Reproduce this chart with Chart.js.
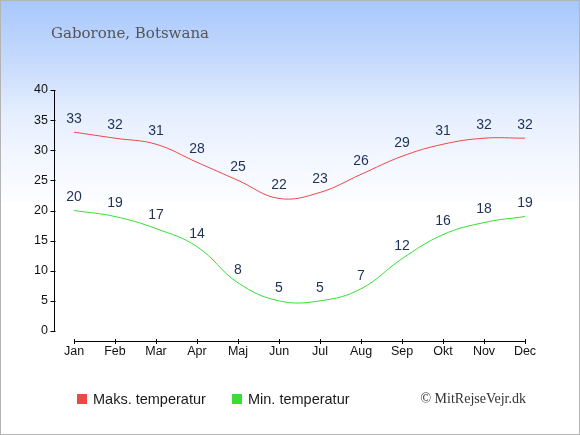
<!DOCTYPE html>
<html lang="da">
<head>
    <meta charset="UTF-8">
    <title>Gaborone, Botswana - temperatur</title>
    <script src="https://cdn.jsdelivr.net/npm/chart.js"></script>
    <style>
        html, body { margin: 0; padding: 0; }
        .frame {
            position: relative;
            width: 580px; height: 435px;
            box-sizing: border-box;
            border: 1px solid #b4b4b4;
            background: linear-gradient(to bottom, #a8c8fc 0px, #c6dafd 60px, #e6effe 115px, #f3f7ff 160px, #fcfdff 200px, #ffffff 202px, #ffffff 100%);
        }
        #tempChart { display: block; }
    </style>
</head>
<body>
    <div class="frame">
        <canvas id="tempChart" width="578" height="433"></canvas>
    </div>

    <script>
        const months = ['Jan', 'Feb', 'Mar', 'Apr', 'Maj', 'Jun', 'Jul', 'Aug', 'Sep', 'Okt', 'Nov', 'Dec'];
        const maxTemp = [33, 32, 31, 28, 25, 22, 23, 26, 29, 31, 32, 32];
        const minTemp = [20, 19, 17, 14, 8, 5, 5, 7, 12, 16, 18, 19];
        const yTicks = [0, 5, 10, 15, 20, 25, 30, 35, 40];

        const titleText = 'Gaborone, Botswana';
        const creditText = '\u00A9 MitRejseVejr.dk';

        const sansFont = '"Liberation Sans", Arial, sans-serif';
        const serifFont = '"DejaVu Serif", serif';

        // axis lines, point labels, legend and the texts around the plot
        const decorations = {
            id: 'decorations',
            afterDraw(chart) {
                const ctx = chart.ctx;
                const x = chart.scales.x;
                const y = chart.scales.y;
                ctx.save();

                // y axis
                const ax = x.getPixelForValue(0) - 19.5;
                ctx.strokeStyle = '#000';
                ctx.lineWidth = 1;
                ctx.beginPath();
                ctx.moveTo(ax, y.getPixelForValue(40));
                ctx.lineTo(ax, y.getPixelForValue(0));
                yTicks.forEach(v => {
                    const py = Math.round(y.getPixelForValue(v)) + 0.5;
                    ctx.moveTo(ax - 4, py);
                    ctx.lineTo(ax + 1, py);
                });
                ctx.stroke();

                // x axis, a little below zero
                const ay = Math.round(y.getPixelForValue(0)) + 10.5;
                ctx.beginPath();
                ctx.moveTo(x.getPixelForValue(0), ay);
                ctx.lineTo(x.getPixelForValue(months.length - 1), ay);
                months.forEach((m, i) => {
                    const px = Math.round(x.getPixelForValue(i)) + 0.5;
                    ctx.moveTo(px, ay - 2.5);
                    ctx.lineTo(px, ay + 2.5);
                });
                ctx.stroke();

                // values over the points
                ctx.font = '14px ' + sansFont;
                ctx.fillStyle = '#1f3155';
                ctx.textAlign = 'center';
                ctx.textBaseline = 'middle';
                chart.data.datasets.forEach((ds, di) => {
                    chart.getDatasetMeta(di).data.forEach((pt, i) => {
                        ctx.fillText(String(ds.data[i]), pt.x, pt.y - 13);
                    });
                });

                // legend
                const legendX = [76, 231];
                ctx.font = '14.5px ' + sansFont;
                ctx.textAlign = 'left';
                chart.data.datasets.forEach((ds, di) => {
                    ctx.fillStyle = ds.borderColor;
                    ctx.fillRect(legendX[di], 393, 10, 10);
                    ctx.fillStyle = '#1a1a1a';
                    ctx.fillText(ds.label, legendX[di] + 16, 398.5);
                });

                // credit
                ctx.font = '14px "Liberation Serif", serif';
                ctx.fillStyle = '#333';
                ctx.textAlign = 'right';
                ctx.fillText(creditText, 525, 398.5);

                // title
                ctx.font = '15px ' + serifFont;
                ctx.fillStyle = '#555';
                ctx.textAlign = 'left';
                ctx.textBaseline = 'alphabetic';
                ctx.fillText(titleText, 50, 37);

                ctx.restore();
            }
        };

        new Chart(document.getElementById('tempChart'), {
            type: 'line',
            data: {
                labels: months,
                datasets: [
                    {
                        label: 'Maks. temperatur',
                        data: maxTemp,
                        borderColor: '#f04646',
                        borderWidth: 1,
                        pointRadius: 0,
                        tension: 0.4,
                        fill: false
                    },
                    {
                        label: 'Min. temperatur',
                        data: minTemp,
                        borderColor: '#33e033',
                        borderWidth: 1,
                        pointRadius: 0,
                        tension: 0.4,
                        fill: false
                    }
                ]
            },
            options: {
                responsive: false,
                animation: false,
                layout: { padding: { top: 89, right: 54, bottom: 0, left: 0 } },
                plugins: {
                    legend: { display: false },
                    title: { display: false },
                    tooltip: { enabled: false }
                },
                scales: {
                    x: {
                        offset: false,
                        grid: { display: false, drawTicks: false },
                        border: { display: false },
                        ticks: {
                            padding: 13,
                            color: '#111',
                            font: { family: sansFont, size: 12.5 },
                            maxRotation: 0,
                            autoSkip: false
                        },
                        afterFit(scale) { scale.height = 103; }
                    },
                    y: {
                        min: 0,
                        max: 40,
                        grid: { display: false, drawTicks: false },
                        border: { display: false },
                        ticks: {
                            stepSize: 5,
                            padding: 26,
                            color: '#111',
                            font: { family: sansFont, size: 12.5 }
                        },
                        afterFit(scale) { scale.width = 73; }
                    }
                }
            },
            plugins: [decorations]
        });
    </script>
</body>
</html>
